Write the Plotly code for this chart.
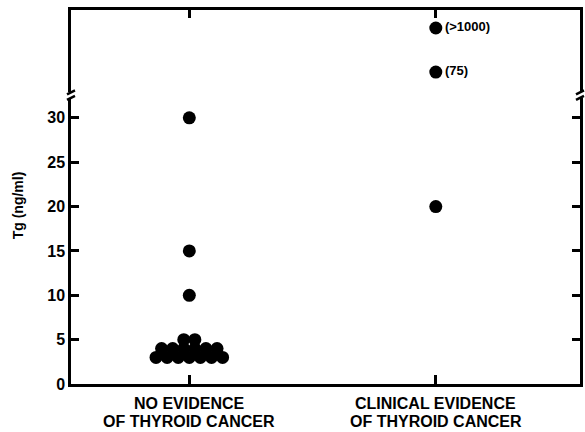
import plotly.graph_objects as go

# ---- data ----
categories = [["NO EVIDENCE", "OF THYROID CANCER"], ["CLINICAL EVIDENCE", "OF THYROID CANCER"]]
no_evidence_tg = [30, 15, 10, 5, 5, 4, 4, 4, 4, 4, 4, 3, 3, 3, 3, 3, 3, 3]
clinical_tg = [20]
clinical_high_tg = [1000, 75]
clinical_high_labels = ["(>1000)", "(75)"]
y_ticks = [0, 5, 10, 15, 20, 25, 30]

# ---- beeswarm offsets for identical values ----
def swarm(values, center, step=0.045):
    counts = {}
    for v in values:
        counts[v] = counts.get(v, 0) + 1
    seen, xs = {}, []
    for v in values:
        n = counts[v]
        i = seen.get(v, 0)
        seen[v] = i + 1
        xs.append(center + (i - (n - 1) / 2) * step)
    return xs

FONT = "Arial, Liberation Sans, Helvetica, sans-serif"
MS = 13
fig = go.Figure()
fig.add_trace(go.Scatter(x=swarm(no_evidence_tg, 0), y=no_evidence_tg, mode="markers",
                         marker=dict(color="black", size=MS), xaxis="x", yaxis="y"))
fig.add_trace(go.Scatter(x=swarm(clinical_tg, 1), y=clinical_tg, mode="markers",
                         marker=dict(color="black", size=MS), xaxis="x", yaxis="y"))
fig.add_trace(go.Scatter(x=[1] * len(clinical_high_tg), y=clinical_high_tg, mode="markers+text",
                         text=clinical_high_labels, textposition="middle right",
                         textfont=dict(family=FONT, size=13, color="black", weight="bold"),
                         marker=dict(color="black", size=MS), xaxis="x2", yaxis="y2",
                         cliponaxis=False))

axis_common = dict(showgrid=False, zeroline=False, linecolor="black", linewidth=2.5,
                   tickcolor="black", tickwidth=2.5)
PW, PH = 512.0, 374.0
fig.update_layout(
    width=585, height=432,
    margin=dict(l=71, r=2, t=10, b=48),
    paper_bgcolor="white", plot_bgcolor="white",
    showlegend=False,
    font=dict(family=FONT, color="black"),
    xaxis=dict(**axis_common, range=[-0.48, 1.585], tickvals=[0, 1],
               ticks="inside", ticklen=9, showline=True, anchor="y",
               showticklabels=False),
    xaxis2=dict(**axis_common, matches="x", range=[-0.48, 1.585], tickvals=[0, 1],
                ticks="inside", ticklen=8, showline=True, side="top", anchor="y2",
                showticklabels=False),
    yaxis=dict(**axis_common, domain=[0, 0.765], range=[0, 32.25], tickvals=y_ticks,
               ticks="inside", ticklen=8, showline=True, mirror="ticks",
               tickfont=dict(family=FONT, size=16, weight="bold")),
    yaxis2=dict(**axis_common, domain=[0.78, 1.0], type="log", range=[1.36, 3.46],
                showline=True, mirror=True, ticks="", showticklabels=False),
)

# category labels, two lines each
for i, lines in enumerate(categories):
    for j, line in enumerate(lines):
        fig.add_annotation(text=line, xref="x", yref="paper", x=i, y=-(19 + 18 * j) / PH,
                           showarrow=False, xanchor="center", yanchor="middle",
                           font=dict(family=FONT, size=16, weight="bold"))

fig.add_annotation(text="Tg (ng/ml)", textangle=-90, xref="paper", yref="paper",
                   x=-(71 - 18) / PW, y=(384 - 205) / PH, showarrow=False,
                   xanchor="center", yanchor="middle",
                   font=dict(family=FONT, size=14, weight="bold"))

# break marks on the axis lines
for xp in (0.0, 1.0):
    for yp in (0.765, 0.78):
        fig.add_shape(type="line", xref="paper", yref="paper",
                      x0=xp - 4 / PW, y0=yp - 2 / PH, x1=xp + 4 / PW, y1=yp + 2 / PH,
                      line=dict(color="black", width=2.5))

# remove the default page margin so the 585x432 figure fills the window exactly
fig.write_html("out.html", config={"displayModeBar": False},
               post_script="document.body.style.margin='0';document.body.style.overflow='hidden';")
